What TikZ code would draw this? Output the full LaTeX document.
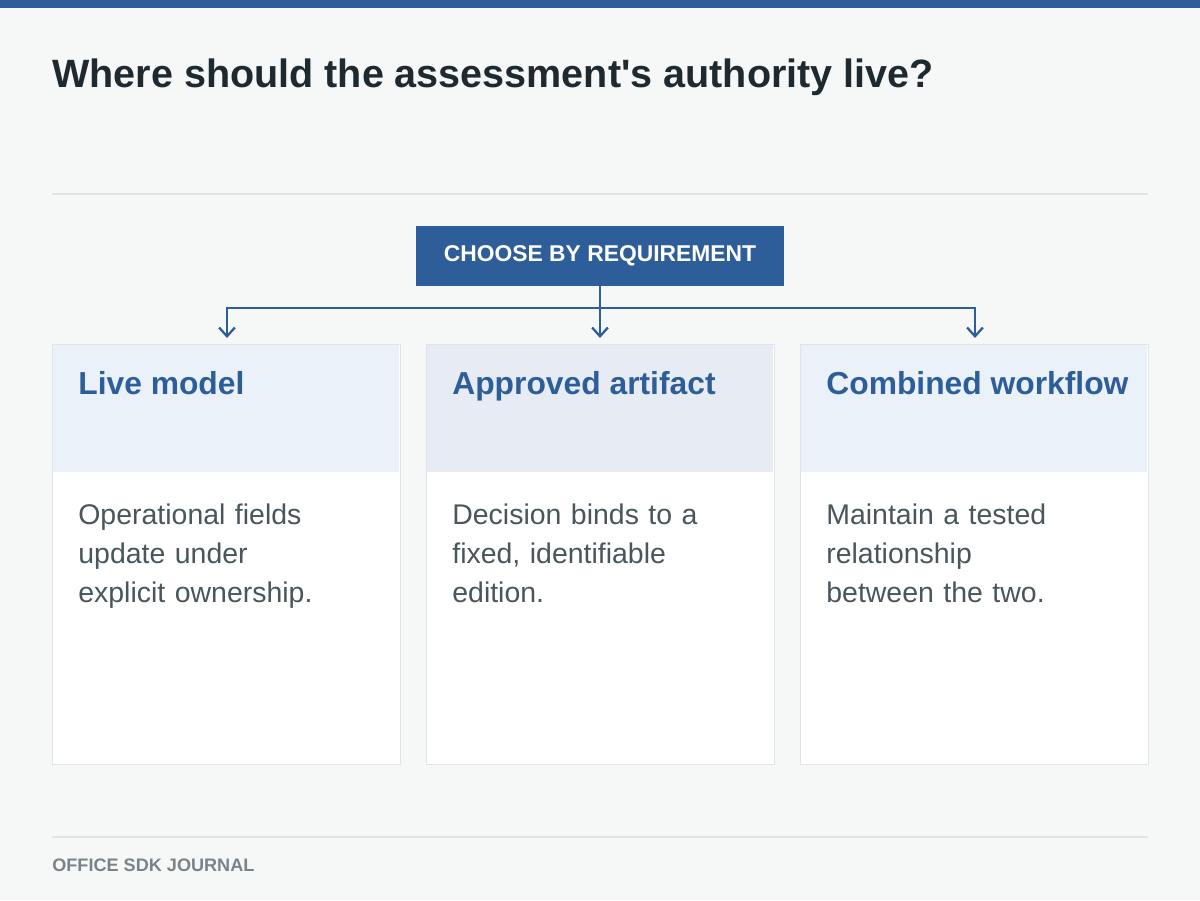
\documentclass[tikz,border=0pt]{standalone}
\usepackage{fontspec}
\setmainfont{Liberation Sans}
\usetikzlibrary{positioning,arrows.meta}
\definecolor{brand}{HTML}{2E5E9A}
\definecolor{paper}{HTML}{F6F8F8}
\definecolor{rulegray}{HTML}{E0E4E4}
\definecolor{ink}{HTML}{1F2A30}
\definecolor{bodyink}{HTML}{4A565C}
\definecolor{headfill}{HTML}{EAF1F9}
\definecolor{headfilltwo}{HTML}{E7ECF4}
\definecolor{footink}{HTML}{7A8488}
\tikzset{
  card/.style={draw=rulegray, fill=white, minimum width=348\px, minimum height=420\px, anchor=north west, inner sep=0pt},
  cardhead/.style={font=\fontsize{18.1}{21}\selectfont\bfseries, text=brand, anchor=base west, inner sep=0pt},
  cardbody/.style={font=\fontsize{16.2}{22.2}\selectfont, text=bodyink, align=left, anchor=north west, inner sep=0pt, text width=320\px},
  link/.style={draw=brand, line width=1.3pt, -{Straight Barb[length=5pt,width=9pt]}}
}
\newlength{\px}
\setlength{\px}{0.02cm}
\begin{document}
\begin{tikzpicture}[x=0.02cm, y=-0.02cm]
  % background and frame
  \fill[paper] (0,0) rectangle (1200,900);
  \fill[brand] (0,0) rectangle (1200,8);
  \node[font=\fontsize{22.5}{26}\selectfont\bfseries, text=ink, anchor=base west, inner sep=0pt] (title) at (52,87) {Where should the assessment\textquotesingle s authority live?};
  \draw[rulegray, line width=1pt] (52,194) -- (1148,194);
  \draw[rulegray, line width=1pt] (52,837) -- (1148,837);
  \node[font=\fontsize{10.3}{12}\selectfont\bfseries, text=footink, anchor=west, inner sep=0pt] (foot) at (52,865) {OFFICE SDK JOURNAL};
  % root
  \node[fill=brand, text=white, font=\fontsize{13}{15}\selectfont\bfseries, minimum width=368\px, minimum height=60\px] (choose) at (600,256) {CHOOSE BY REQUIREMENT};
  % cards
  \foreach \name/\x/\hf/\head/\body in {
      live/52/headfill/Live model/{Operational fields\\update under\\explicit ownership.},
      approved/426/headfilltwo/Approved artifact/{Decision binds to a\\fixed, identifiable\\edition.},
      combined/800/headfill/Combined workflow/{Maintain a tested\\relationship\\between the two.}}{
    \node[card] (\name) at (\x,344) {};
    \fill[\hf] ([xshift=0.5pt,yshift=-0.5pt]\name.north west) rectangle ([xshift=-0.5pt]\x+348,472);
    \node[cardhead] (\name-head) at (\x+26,394) {\head};
    \node[cardbody] (\name-body) at (\x+26,504) {\body};
  }
  % connectors
  \coordinate (split) at (600,308);
  \draw[brand, line width=1.3pt] (choose.south) -- (split);
  \draw[link, shorten >=6\px] (split) -| (live.north -| 227,0);
  \draw[link, shorten >=6\px] (split) -- (approved.north -| 600,0);
  \draw[link, shorten >=6\px] (split) -| (combined.north -| 975,0);
\end{tikzpicture}
\end{document}
